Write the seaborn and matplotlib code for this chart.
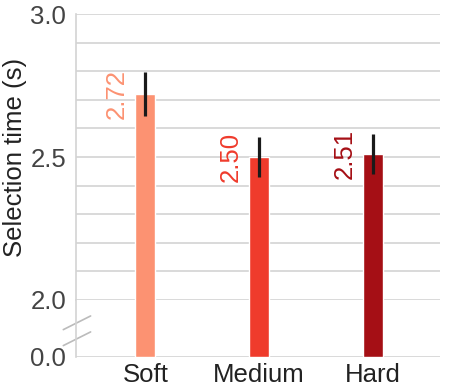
import matplotlib
matplotlib.use("Agg")
import matplotlib.pyplot as plt
import seaborn as sns
import pandas as pd
from matplotlib.ticker import MultipleLocator, FormatStrFormatter

# data
conditions = ["Soft", "Medium", "Hard"]
mean_time = [2.72, 2.50, 2.51]
err_time = [0.077, 0.07, 0.07]
bar_colors = ["#fc9272", "#ef3b2c", "#a50f15"]

df = pd.DataFrame({"Condition": conditions, "Time": mean_time})

sns.set_style("white")
plt.rcParams["font.family"] = ["Liberation Sans", "DejaVu Sans"]

grid_col = "#d3d3d3"
bar_w = 0.175
fs = 18.5

fig = plt.figure(figsize=(4.5, 3.89), dpi=100)
ax_top = fig.add_axes([0.169, 0.2288, 0.809, 0.7352])
ax_bot = fig.add_axes([0.169, 0.0823, 0.809, 0.1465])

for ax in (ax_top, ax_bot):
    sns.barplot(data=df, x="Condition", y="Time", hue="Condition",
                palette=bar_colors, width=bar_w, errorbar=None,
                saturation=1, legend=False, ax=ax, zorder=3)
    ax.set_xlim(-0.61, 2.59)
    for s in ["top", "right", "bottom"]:
        ax.spines[s].set_visible(False)
    ax.spines["left"].set_color(grid_col)
    ax.spines["left"].set_linewidth(1.2)
    ax.tick_params(axis="both", length=0, labelsize=fs, pad=7,
                   labelcolor="#444444")
    ax.set_xlabel("")
    ax.set_ylabel("")

# upper part: 2.0 - 3.0
ax_top.set_ylim(2.0, 3.0)
ax_top.yaxis.set_major_locator(MultipleLocator(0.5))
ax_top.yaxis.set_minor_locator(MultipleLocator(0.1))
ax_top.yaxis.set_major_formatter(FormatStrFormatter("%.1f"))
ax_top.grid(axis="y", which="both", color=grid_col, lw=1.2, zorder=0)
ax_top.set_axisbelow(True)
ax_top.tick_params(axis="y", which="minor", length=0)
ax_top.set_xticks([])
ax_top.errorbar(range(len(conditions)), mean_time, yerr=err_time,
                fmt="none", ecolor="#1a1a1a", elinewidth=2.3, capsize=0,
                zorder=4)
for i, (v, c) in enumerate(zip(mean_time, bar_colors)):
    ax_top.text(i - bar_w / 2 - 0.055, v, f"{v:.2f}", rotation=90,
                ha="right", va="center", color=c, fontsize=fs)
ax_top.set_ylabel("Selection time (s)", fontsize=fs, color="#222222")
ax_top.yaxis.set_label_coords(-0.135, 0.5)

# lower part: just the zero
ax_bot.set_ylim(0, 0.2)
ax_bot.set_yticks([0.0])
ax_bot.yaxis.set_major_formatter(FormatStrFormatter("%.1f"))
ax_bot.grid(axis="y", color=grid_col, lw=1.2, zorder=0)
ax_bot.set_axisbelow(True)
ax_bot.tick_params(axis="x", labelcolor="#222222", pad=4)

# break marks on the left spine
for yy in (0.60, 0.32):
    ax_bot.plot([-0.035, 0.04], [yy - 0.12, yy + 0.12], transform=ax_bot.transAxes,
                color="#bbbbbb", lw=1.2, clip_on=False)

fig.savefig("out.png", dpi=100)
